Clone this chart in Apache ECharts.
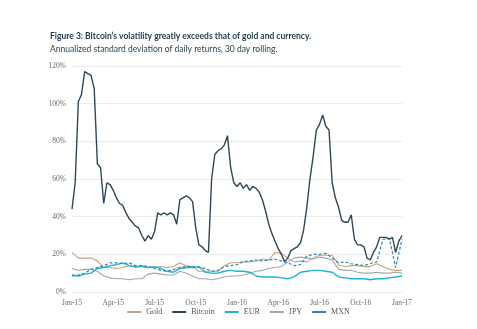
<!DOCTYPE html>
<html>
<head>
<meta charset="utf-8">
<script src="https://cdn.jsdelivr.net/npm/echarts@6/dist/echarts.min.js"></script>
<style>
  html, body { margin: 0; padding: 0; background: #fff; }
  #chart { width: 477px; height: 329px; }
</style>
</head>
<body>
<div id="chart"></div>
<script>
// Quarter labels along the time axis (axis unit = months since Jan 2015)
const quarterLabels = ['Jan-15', 'Apr-15', 'Jul-15', 'Oct-15', 'Jan-16', 'Apr-16', 'Jul-16', 'Oct-16', 'Jan-17'];
const yTicks = [0, 20, 40, 60, 80, 100, 120];

// Bitcoin, 30-day rolling annualized volatility (%), weekly, Jan 2015 - Jan 2017
const bitcoin = [
  44, 58, 101, 105, 117, 116, 115, 108, 68, 66,
  47, 58, 57, 54, 50, 47, 46, 42, 39, 37,
  35, 34, 30, 27, 30, 28, 32, 42, 41, 42,
  41, 42, 41, 36, 49, 50, 51, 50, 48, 34,
  25, 24, 22, 21, 60, 73, 75, 76, 78, 83,
  66, 58, 56, 58, 55, 57, 54, 56, 55, 53,
  49, 43, 36, 31, 27, 23, 20, 16, 18, 22,
  23, 24, 26, 33, 45, 60, 72, 86, 89, 94,
  88, 86, 58, 50, 45, 38, 37, 37, 41, 28,
  25, 25, 24, 18, 17, 21, 24, 29, 29, 29,
  28, 29, 21, 27, 30
];

// Gold, EUR, JPY, MXN (%), every two weeks over the same span
const gold = [
  21, 18, 18, 18, 16.5, 13, 13, 12.5, 13, 14,
  13, 14, 13, 13, 13.5, 13, 13.5, 15.5, 14, 13.5,
  11, 11, 11, 11, 14, 15.5, 15.5, 16, 16, 16.5,
  17.5, 17, 21, 20.5, 18, 16, 16.5, 16, 18, 19.5,
  19.5, 19.5, 14.5, 13.5, 14, 14, 13.5, 13.5, 15, 13.5,
  12, 11.5, 11.5
];
const eur = [
  9, 8.5, 9.5, 10, 12.5, 13, 14, 14.5, 15.5, 14,
  13.5, 13.5, 13, 13.5, 12.5, 11, 10.5, 12.5, 13, 13,
  13.5, 10.5, 10, 10, 11, 11.5, 11, 11, 10.5, 8.5,
  8, 8, 8, 7.5, 7, 8, 10.5, 11, 11.5, 11.5,
  11, 10.5, 8, 7.5, 7, 7, 7, 6.5, 7, 7,
  7.5, 8, 8.5
];
const jpy = [
  12.5, 11.5, 12, 12, 11, 8.5, 7.5, 7, 7, 6.5,
  7, 7, 9.5, 10, 9.5, 9, 9, 11, 10, 8.5,
  7, 7, 6.5, 7, 8, 8.5, 8.5, 9, 10, 11,
  11.5, 12.5, 13, 13.5, 16, 18, 18.5, 18, 17.5, 18.5,
  18, 17, 12, 11.5, 11.5, 10.5, 10, 10, 10.5, 10,
  10, 10.5, 10
];
const mxn = [
  8.5, 9, 10, 12, 13, 14, 15.5, 15.5, 15, 15.5,
  14, 14, 13.5, 12.5, 11.5, 11, 12, 13, 13.5, 13.5,
  13, 12.5, 11, 11.5, 13.5, 14, 14.5, 16, 16.5, 17,
  16.5, 17, 17.5, 16.5, 15.5, 14, 14.5, 19, 20, 20,
  20.5, 18, 15.5, 16, 15, 14.5, 14, 15, 16, 28,
  28.5, 13, 28
];

const SPAN_MONTHS = 24;
// Spread an evenly sampled series over the 24-month axis
function toPairs(values) {
  const step = SPAN_MONTHS / (values.length - 1);
  return values.map((v, i) => [i * step, v]);
}

const serif = '"Liberation Serif", "DejaVu Serif", serif';
const sans = 'Lato, "Open Sans", sans-serif';

function lineSeries(name, values, color, width, type) {
  return {
    name: name,
    type: 'line',
    data: toPairs(values),
    symbol: 'none',
    smooth: false,
    lineStyle: { color: color, width: width, type: type || 'solid' },
    itemStyle: { color: color },
    emphasis: { disabled: true },
    animation: false
  };
}

const chart = echarts.init(document.getElementById('chart'), null, { renderer: 'canvas' });
chart.setOption({
  backgroundColor: '#ffffff',
  animation: false,
  title: [
    {
      text: 'Figure 3: Bitcoin\u2019s volatility greatly exceeds that of gold and currency.',
      left: 45, top: 27,
      textStyle: { fontFamily: sans, fontSize: 8.5, fontWeight: 'bold', color: '#1f3a48' }
    },
    {
      text: 'Annualized standard deviation of daily returns, 30 day rolling.',
      left: 45, top: 40,
      textStyle: { fontFamily: sans, fontSize: 8.5, fontWeight: 'normal', color: '#2a4452' }
    }
  ],
  grid: { left: 72, right: 75, top: 66, bottom: 37, containLabel: false },
  xAxis: {
    type: 'value',
    min: 0, max: SPAN_MONTHS, interval: 3,
    axisLine: { show: false },
    axisTick: { show: false },
    splitLine: { show: false },
    axisLabel: {
      margin: 7,
      fontFamily: serif, fontSize: 7.5, color: '#6b6b6b',
      formatter: v => quarterLabels[Math.round(v / 3)] || ''
    }
  },
  yAxis: {
    type: 'value',
    min: yTicks[0], max: yTicks[yTicks.length - 1], interval: 20,
    axisLine: { show: false },
    axisTick: { show: false },
    splitLine: { lineStyle: { color: '#ececec', width: 1 } },
    axisLabel: {
      margin: 6,
      fontFamily: serif, fontSize: 7.5, color: '#6b6b6b',
      formatter: v => v + '%'
    }
  },
  legend: {
    bottom: 8, left: 'center',
    itemWidth: 14, itemHeight: 2, itemGap: 10,
    icon: 'path://M0,0 L14,0 L14,2 L0,2 Z',
    textStyle: { fontFamily: serif, fontSize: 8, color: '#555' },
    data: ['Gold', 'Bitcoin', 'EUR', 'JPY', 'MXN']
  },
  series: [
    lineSeries('Gold', gold, '#c9a27a', 1.1),
    lineSeries('JPY', jpy, '#a3a9ab', 1.1),
    lineSeries('EUR', eur, '#1fb4d0', 1.4),
    lineSeries('MXN', mxn, '#2a86c0', 1.2, [3, 2]),
    lineSeries('Bitcoin', bitcoin, '#2d4754', 1.4)
  ]
});
</script>
</body>
</html>
